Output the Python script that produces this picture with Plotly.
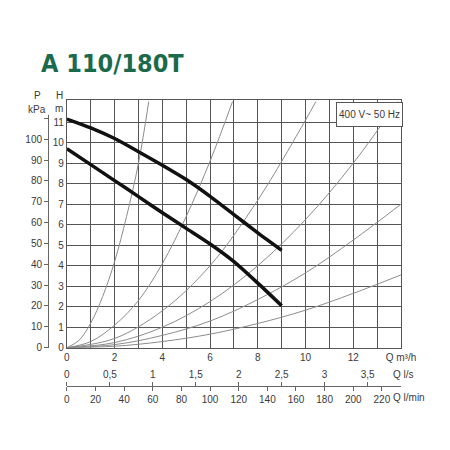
import plotly.graph_objects as go

# Vazão (m3/h) e altura (m) das duas curvas da bomba
q_bomba = [0, 1, 2, 3, 4, 5, 6, 7, 8, 9]
h_max = [11.15, 10.72, 10.2, 9.56, 8.9, 8.2, 7.38, 6.49, 5.6, 4.75]
h_min = [9.7, 8.93, 8.15, 7.37, 6.58, 5.82, 5.06, 4.2, 3.15, 2.05]

# Curvas do sistema (linhas finas cinzas)
q_sis_a = [0, 0.5, 1, 1.5, 2, 2.5, 3, 3.43]
h_sis_a = [0, 0.35, 1.2, 2.5, 4.2, 6.4, 9.0, 12]
q_sis_b = [0, 1, 2, 3, 4, 5, 6, 6.94]
h_sis_b = [0, 0.3, 1.1, 2.3, 4.1, 6.4, 9.1, 12]
q_sis_c = [0, 2, 4, 6, 8, 10, 10.43]
h_sis_c = [0, 0.45, 1.8, 4.0, 7.2, 11.1, 12]
q_sis_d = [0, 2, 4, 6, 8, 10, 12, 13.86]
h_sis_d = [0, 0.25, 1.0, 2.25, 4.0, 6.25, 9.0, 12]
q_sis_e = [0, 2, 4, 6, 8, 10, 12, 14]
h_sis_e = [0, 0.15, 0.6, 1.3, 2.35, 3.65, 5.25, 7.0]
q_sis_f = [0, 2, 4, 6, 8, 10, 12, 14]
h_sis_f = [0, 0.07, 0.3, 0.66, 1.18, 1.83, 2.65, 3.55]

# Rótulos dos eixos
q_m3h_ticks = list(range(0, 15))
q_m3h_text = [str(v) if v % 2 == 0 else '' for v in q_m3h_ticks[:-1]] + ['Q m³/h']
h_ticks = list(range(0, 12))
p_ticks = list(range(0, 111, 10))
p_text = [str(v) for v in p_ticks[:-1]] + ['']
q_ls_ticks = [0, 0.5, 1, 1.5, 2, 2.5, 3, 3.5]
q_ls_text = ['0', '0,5', '1', '1,5', '2', '2,5', '3', '3,5']
q_lmin_ticks = list(range(0, 221, 20))

fonte = 'Liberation Sans Narrow, Liberation Sans, Arial'
cinza_txt = '#3a3a3a'
cinza_grade = '#555555'
h_topo = 12.08

fig = go.Figure()

# Curvas do sistema
for q, h in [(q_sis_a, h_sis_a), (q_sis_b, h_sis_b), (q_sis_c, h_sis_c),
             (q_sis_d, h_sis_d), (q_sis_e, h_sis_e), (q_sis_f, h_sis_f)]:
    fig.add_trace(go.Scatter(x=q, y=h, mode='lines', line=dict(color='#8c8c8c', width=1, shape='spline'),
                             hoverinfo='skip', showlegend=False))

# Curvas da bomba
for h in [h_max, h_min]:
    fig.add_trace(go.Scatter(x=q_bomba, y=h, mode='lines',
                             line=dict(color='#111111', width=3.5, shape='spline', smoothing=0.7),
                             showlegend=False))

# Traços vazios só para os eixos extras aparecerem
fig.add_trace(go.Scatter(x=[], y=[], xaxis='x', yaxis='y2', showlegend=False))
fig.add_trace(go.Scatter(x=[], y=[], xaxis='x2', yaxis='y', showlegend=False))
fig.add_trace(go.Scatter(x=[], y=[], xaxis='x3', yaxis='y', showlegend=False))

fig.update_layout(
    width=450, height=450,
    margin=dict(l=2, r=57, t=92, b=28),
    paper_bgcolor='white', plot_bgcolor='white',
    font=dict(family=fonte, size=10, color=cinza_txt),
    xaxis=dict(domain=[0.1389, 1], range=[0, 14], tickvals=q_m3h_ticks, ticktext=q_m3h_text,
               showgrid=True, gridcolor=cinza_grade, gridwidth=1.2, zeroline=False,
               showline=True, linecolor=cinza_grade, linewidth=1.2, mirror=True, ticks=''),
    yaxis=dict(domain=[0.2494, 1], range=[0, h_topo], tickvals=h_ticks,
               showgrid=True, gridcolor=cinza_grade, gridwidth=1.2, zeroline=False,
               showline=True, linecolor=cinza_grade, linewidth=1.2, mirror=True, ticks=''),
    # eixo P em kPa (1 kPa ~ 0.1017 m)
    yaxis2=dict(overlaying='y', range=[0, h_topo / 0.1017], anchor='free', position=0.0903, side='left',
                tickvals=p_ticks, ticktext=p_text, ticks='outside', ticklen=4, tickcolor='#666',
                showline=True, linecolor='#666', linewidth=1, showgrid=False, zeroline=False),
    # eixos Q em l/s e l/min
    xaxis2=dict(overlaying='x', anchor='free', position=0.1333, side='top', range=[0, 14 / 3.6],
                tickvals=q_ls_ticks, ticktext=q_ls_text, ticks='outside', ticklen=4, tickcolor='#666',
                showline=False, showgrid=False, zeroline=False),
    xaxis3=dict(overlaying='x', anchor='free', position=0.1333, side='bottom', range=[0, 14 / 0.06],
                tickvals=q_lmin_ticks, ticks='outside', ticklen=4, tickcolor='#666',
                showline=True, linecolor='#666', linewidth=1, showgrid=False, zeroline=False),
)

# O eixo P termina um pouco abaixo do topo
fig.add_shape(type='rect', xref='paper', yref='paper', x0=0.082, x1=0.097, y0=0.955, y1=1.01,
              fillcolor='white', line=dict(width=0), layer='above')

# Títulos e textos
fig.add_annotation(x=0.257, y=1.112, xref='paper', yref='paper', xanchor='center', yanchor='middle',
                   text='<b>A 110/180T</b>', showarrow=False,
                   font=dict(family='DejaVu Sans Condensed, DejaVu Sans', size=25, color='#1b6a4b'))
for txt, x, y in [('P', 0.0639, 1.013), ('kPa', 0.0622, 0.972), ('H', 0.1194, 1.015), ('m', 0.1194, 0.974)]:
    fig.add_annotation(x=x, y=y, xref='paper', yref='paper', xanchor='center', yanchor='middle', text=txt,
                       showarrow=False, font=dict(size=10))
fig.add_annotation(x=12.7, y=11.37, xref='x', yref='y', text='400 V~ 50 Hz', showarrow=False,
                   width=63, height=21, bgcolor='white', bordercolor='#555', borderwidth=1, borderpad=1,
                   font=dict(size=10))
fig.add_annotation(x=0.973, y=0.1667, xref='paper', yref='paper', xanchor='left', yanchor='middle',
                   text='Q l/s', showarrow=False, font=dict(size=10))
fig.add_annotation(x=0.975, y=0.1, xref='paper', yref='paper', xanchor='left', yanchor='middle',
                   text='Q l/min', showarrow=False, font=dict(size=10))

fig.write_html("out.html")
